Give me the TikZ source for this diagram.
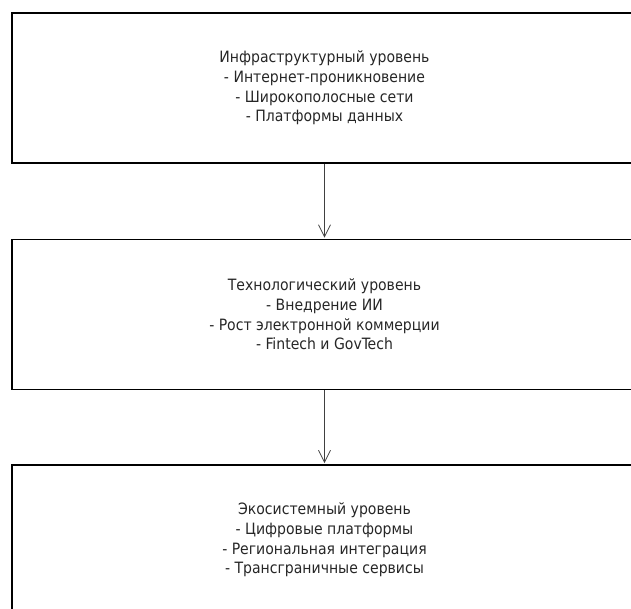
\documentclass[tikz,border=0pt]{standalone}
\usepackage{fontspec}
\setmainfont{DejaVu Sans Condensed}
\usetikzlibrary{arrows.meta}

\begin{document}
\begin{tikzpicture}[x=1pt,y=-1pt,
  level/.style={draw=black,line width=1.8pt,minimum width=625pt,minimum height=150pt,
    inner sep=0pt,align=center,text=black!85,font=\fontsize{15.6}{19.7}\selectfont},
  flow/.style={-{Straight Barb[length=12pt,width=12pt]},line width=0.8pt,black!75,shorten >=1pt}]
\useasboundingbox (0,0) rectangle (631,608);
\node[level] (infra) at (324.5,88) {Инфраструктурный уровень\\- Интернет-проникновение\\- Широкополосные сети\\- Платформы данных};
\node[level] (tech) at (324.5,314.5) {Технологический уровень\\- Внедрение ИИ\\- Рост электронной коммерции\\- Fintech и GovTech};
\node[level] (eco) at (324.5,540) {Экосистемный уровень\\- Цифровые платформы\\- Региональная интеграция\\- Трансграничные сервисы};
\draw[flow] (infra) -- (tech);
\draw[flow] (tech) -- (eco);
\end{tikzpicture}
\end{document}
